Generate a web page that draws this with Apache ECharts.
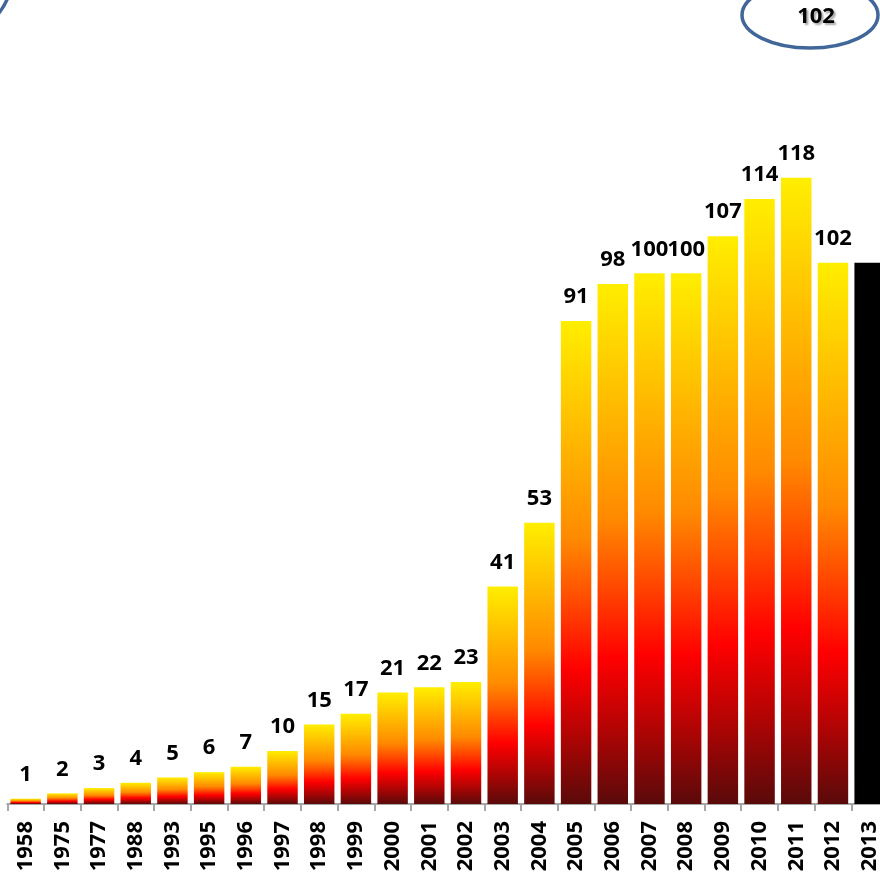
<!DOCTYPE html>
<html>
<head>
<meta charset="utf-8">
<script src="https://cdn.jsdelivr.net/npm/echarts@6/dist/echarts.min.js"></script>
<style>
  html, body { margin: 0; padding: 0; background: #fff; overflow: hidden; }
  /* slightly wider than the window: the original picture crops the last bar */
  #main { width: 888px; height: 881px; }
</style>
</head>
<body>
<div id="main"></div>
<script>
// years and counts
var years = ['1958', '1975', '1977', '1988', '1993', '1995', '1996', '1997', '1998', '1999',
             '2000', '2001', '2002', '2003', '2004', '2005', '2006', '2007', '2008', '2009',
             '2010', '2011', '2012', '2013'];
var counts = [1, 2, 3, 4, 5, 6, 7, 10, 15, 17, 21, 22, 23, 41, 53, 91, 98, 100, 100, 107, 114, 118, 102, 102];
var highlightYear = '2013';   // black bar, value shown in the bubble

var fontName = '"Open Sans", "Liberation Sans", sans-serif';

var fire = new echarts.graphic.LinearGradient(0, 0, 0, 1, [
     { offset: 0, color: '#ffee00' },
     { offset: 0.2, color: '#ffc200' },
     { offset: 0.45, color: '#ff8a00' },
     { offset: 0.58, color: '#ff4a00' },
     { offset: 0.72, color: '#ff0000' },
     { offset: 0.86, color: '#b00404' },
     { offset: 1, color: '#5a0a0a' }
]);

var barData = counts.map(function (v, i) {
     if (years[i] === highlightYear) {
          return { value: v, itemStyle: { color: '#000000' }, label: { show: false } };
     }
     return { value: v, itemStyle: { color: fire } };
});

var chart = echarts.init(document.getElementById('main'));
var option = {
     animation: false,
     grid: { left: 7.3, top: 8, bottom: 77, right: 0 },
     xAxis: {
          type: 'category',
          data: years,
          axisLine: { lineStyle: { color: '#a6a6a6', width: 2 } },
          axisTick: { show: true, length: 7, lineStyle: { color: '#a6a6a6', width: 2 } },
          axisLabel: {
               interval: 0,
               rotate: 90,
               margin: 17,
               color: '#000',
               fontSize: 22,
               fontWeight: 'bold',
               fontFamily: fontName
          }
     },
     yAxis: {
          type: 'value',
          min: 0,
          max: 150,
          show: false,
          splitLine: { show: false }
     },
     series: [{
          type: 'bar',
          data: barData,
          barCategoryGap: '17%',
          label: {
               show: true,
               position: 'top',
               distance: 13,
               color: '#000',
               fontSize: 22,
               fontWeight: 'bold',
               fontFamily: fontName
          }
     }],
     graphic: [
          {
               type: 'ellipse',
               shape: { cx: -60, cy: -25, rx: 72, ry: 66 },
               style: { fill: 'none', stroke: '#41679a', lineWidth: 3.5 }
          },
          {
               type: 'ellipse',
               shape: { cx: 810, cy: 15, rx: 68, ry: 33 },
               style: { fill: '#fff', stroke: '#41679a', lineWidth: 3.5 }
          },
          {
               type: 'text',
               x: 816,
               y: 17,
               style: {
                    text: String(counts[years.indexOf(highlightYear)]),
                    fill: '#000',
                    font: 'bold 22px ' + fontName,
                    align: 'center',
                    verticalAlign: 'middle',
                    textShadowColor: 'rgba(0,0,0,0.35)',
                    textShadowOffsetX: 2,
                    textShadowOffsetY: 2,
                    textShadowBlur: 2
               }
          }
     ]
};
chart.setOption(option);
</script>
</body>
</html>
